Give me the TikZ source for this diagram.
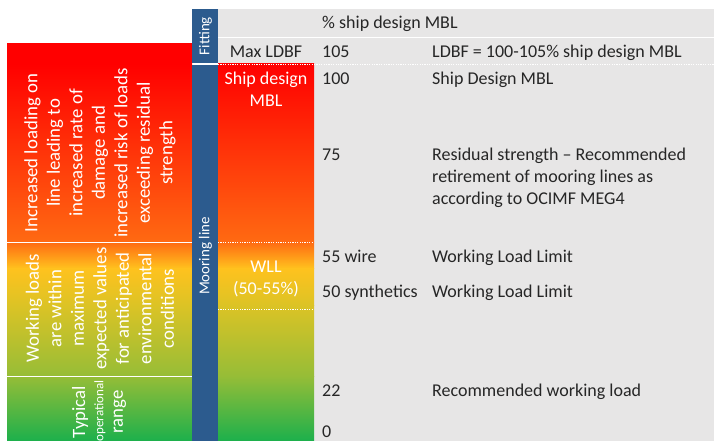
\documentclass[tikz,border=0pt]{standalone}
\usepackage{fontspec}
\setmainfont{Carlito}
\definecolor{bgray}{HTML}{E7E6E6}
\definecolor{barblue}{HTML}{2C5B8E}
\definecolor{txtgray}{HTML}{262626}
\definecolor{gA}{HTML}{FF0000}
\definecolor{gB}{HTML}{FF6A12}
\definecolor{gC}{HTML}{FFC21E}
\definecolor{gD}{HTML}{DCC325}
\definecolor{gE}{HTML}{96BD37}
\definecolor{gF}{HTML}{1CB04C}
\newcommand\GradStrip[2]{%
  \shade[top color=gA,bottom color=gB] (#1,64) rectangle (#2,242.5);
  \shade[top color=gB,bottom color=gC] (#1,242) rectangle (#2,268.5);
  \shade[top color=gC,bottom color=gD] (#1,268) rectangle (#2,305.5);
  \shade[top color=gD,bottom color=gE] (#1,305) rectangle (#2,376.5);
  \shade[top color=gE,bottom color=gF] (#1,376) rectangle (#2,441);
}
\tikzset{
  bigfont/.style={font=\fontsize{18}{22}\selectfont},
  lefttxt/.style={font=\fontsize{18.8}{22.5}\selectfont, rotate=90, align=center, text=white, inner sep=0pt},
  bartxt/.style={font=\fontsize{15}{18}\selectfont, rotate=90, text=white, inner sep=0pt},
  graytxt/.style={bigfont, text=txtgray, inner sep=0pt, anchor=base west},
  midtxt/.style={bigfont, text=white, align=center, inner sep=0pt},
  sepline/.style={white, line width=1pt},
  dotline/.style={white, line width=0.8pt, dash pattern=on 1.2pt off 1.2pt},
}
\begin{document}
\begin{tikzpicture}[x=1pt,y=-1pt]
\useasboundingbox (0,0) rectangle (714,441);
% backgrounds
\fill[bgray] (218,9) rectangle (714,441);
\fill[gA] (7,43) rectangle (192,64.5);
\GradStrip{7}{192}
\GradStrip{218}{314}
\fill[barblue] (192,9) rectangle (218,63);
\fill[barblue] (192,65) rectangle (218,441);
% separators
\draw[sepline] (218,37.5) -- (714,37.5);
\draw[dotline] (218,64) -- (714,64);
\draw[sepline] (7,242) -- (192,242);
\draw[sepline] (7,376) -- (192,376);
\draw[dotline] (218,242) -- (314,242);
\draw[dotline] (218,309) -- (314,309);
% bar labels
\node[bartxt] (fit) at (205.5,36) {Fitting};
\node[bartxt] (moor) at (205.5,256) {Mooring line};
% left panel texts
\node[lefttxt] (z1) at (100,153) {Increased loading on\\line leading to\\increased rate of\\damage and\\increased risk of loads\\exceeding residual\\strength};
\node[lefttxt] (z2) at (100,308.5) {Working loads\\are within\\maximum\\expected values\\for anticipated\\environmental\\conditions};
\node[lefttxt] (z3a) at (80,412) {Typical};
\node[lefttxt, font=\fontsize{13}{15}\selectfont] (z3b) at (100,411) {operational};
\node[lefttxt] (z3c) at (120,412) {range};
% middle column
\node[bigfont, text=txtgray, inner sep=0pt] (ldbf) at (266,52) {Max LDBF};
\node[midtxt] (sdm) at (266,89) {Ship design\\MBL};
\node[midtxt] (wll) at (266,278.5) {WLL\\(50-55\%)};
% gray texts
\node[graytxt] (hdr) at (322,29) {\% ship design MBL};
\node[graytxt] (v105) at (322,58) {105};
\node[graytxt] (d105) at (432,58) {LDBF = 100-105\% ship design MBL};
\node[graytxt] (v100) at (322,85) {100};
\node[graytxt] (d100) at (432,85) {Ship Design MBL};
\node[graytxt] (v75) at (322,160) {75};
\node[bigfont, text=txtgray, inner sep=0pt, anchor=west, align=left] (d75) at (432,177.5) {Residual strength – Recommended\\retirement of mooring lines as\\according to OCIMF MEG4};
\node[graytxt] (v55) at (322,262) {55 wire};
\node[graytxt] (d55) at (432,262) {Working Load Limit};
\node[graytxt] (v50) at (322,297) {50 synthetics};
\node[graytxt] (d50) at (432,297) {Working Load Limit};
\node[graytxt] (v22) at (322,396) {22};
\node[graytxt] (d22) at (432,396) {Recommended working load};
\node[graytxt] (v0) at (322,437.5) {0};
\end{tikzpicture}
\end{document}
